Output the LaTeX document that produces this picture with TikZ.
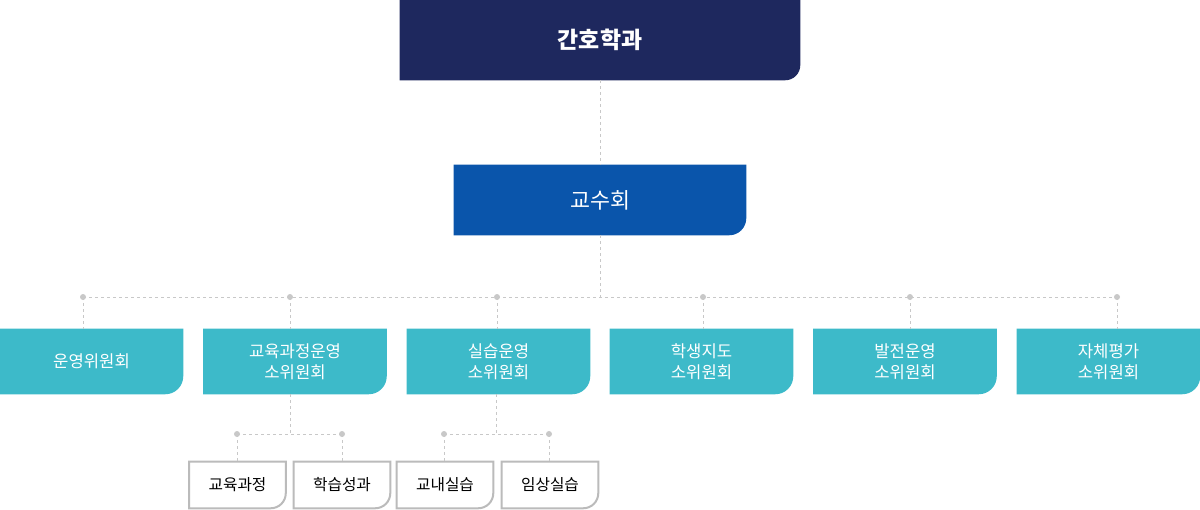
\documentclass[tikz,border=0pt]{standalone}
\usepackage{fontspec}
\setmainfont{Noto Sans CJK KR}
\usetikzlibrary{backgrounds}
\definecolor{navyc}{HTML}{1E285E}
\definecolor{bluec}{HTML}{0A55AB}
\definecolor{tealc}{HTML}{3DBAC9}
\definecolor{borderc}{HTML}{BBBBBB}
\definecolor{dashc}{HTML}{C8C8C8}
\begin{document}
\begin{tikzpicture}[x=0.75pt,y=-0.75pt,
  box/.style={inner sep=0pt,align=center,text=white},
  topbox/.style={box,minimum width=300pt,minimum height=60pt,font=\bfseries\fontsize{17.2}{20}\selectfont},
  midbox/.style={box,minimum width=219pt,minimum height=52.5pt,font=\fontsize{16.3}{18}\selectfont},
  combox/.style={box,minimum width=137.25pt,minimum height=48.75pt,font=\fontsize{12.5}{16}\selectfont},
  subbox/.style={inner sep=0pt,align=center,text=black,minimum width=73.5pt,minimum height=36pt,font=\fontsize{11.8}{13}\selectfont},
  conn/.style={draw=dashc,line width=0.75pt,dash pattern=on 2.25pt off 2.25pt},
  dot/.style={fill=dashc}
]
\useasboundingbox (0,0) rectangle (1200,510);

\node[topbox] (top) at (600,40) {간호학과};
\node[midbox] (mid) at (600,200) {교수회};

\node[combox] (b1) at (91.5,361.5) {운영위원회};
\node[combox] (b2) at (295,361.5) {교육과정운영\\소위원회};
\node[combox] (b3) at (498.5,361.5) {실습운영\\소위원회};
\node[combox] (b4) at (701.5,361.5) {학생지도\\소위원회};
\node[combox] (b5) at (905,361.5) {발전운영\\소위원회};
\node[combox] (b6) at (1108.5,361.5) {자체평가\\소위원회};

\node[subbox] (s1) at (237.5,485) {교육과정};
\node[subbox] (s2) at (342,485) {학습성과};
\node[subbox] (s3) at (445,485) {교내실습};
\node[subbox] (s4) at (550,485) {임상실습};

\begin{pgfonlayer}{background}
  \fill[navyc] (top.north west) -- (top.north east) -- ([yshift=11.25pt]top.south east)
    arc[start angle=0,end angle=-90,radius=11.25pt] -- (top.south west) -- cycle;
  \fill[bluec] (mid.north west) -- (mid.north east) -- ([yshift=12.75pt]mid.south east)
    arc[start angle=0,end angle=-90,radius=12.75pt] -- (mid.south west) -- cycle;
  \foreach \n in {b1,b2,b3,b4,b5,b6}
    \fill[tealc] (\n.north west) -- (\n.north east) -- ([yshift=13.5pt]\n.south east)
      arc[start angle=0,end angle=-90,radius=13.5pt] -- (\n.south west) -- cycle;
  \foreach \n in {s1,s2,s3,s4}
    \draw[draw=borderc,fill=white,line width=1.5pt]
      ([xshift=0.75pt,yshift=-0.75pt]\n.north west) -- ([xshift=-0.75pt,yshift=-0.75pt]\n.north east)
      -- ([xshift=-0.75pt,yshift=12pt]\n.south east)
      arc[start angle=0,end angle=-90,radius=11.25pt] -- ([xshift=0.75pt,yshift=0.75pt]\n.south west) -- cycle;
\end{pgfonlayer}

\coordinate (hub) at (600,297);
\coordinate (d1) at (83,297);
\coordinate (d2) at (290,297);
\coordinate (d3) at (497,297);
\coordinate (d4) at (703,297);
\coordinate (d5) at (910,297);
\coordinate (d6) at (1117,297);

\draw[conn] (top.south) -- (mid.north);
\draw[conn] (mid.south) -- (hub);
\draw[conn] (d1) -- (d6);
\foreach \d/\b in {d1/b1,d2/b2,d3/b3,d4/b4,d5/b5,d6/b6}
  \draw[conn] (\d) -- (\d |- \b.north);

\coordinate (j2) at (290,434);
\coordinate (j3) at (496,434);
\coordinate (e1) at (237,434);
\coordinate (e2) at (342,434);
\coordinate (e3) at (444,434);
\coordinate (e4) at (549,434);

\draw[conn] (j2 |- b2.south) -- (j2);
\draw[conn] (j3 |- b3.south) -- (j3);
\draw[conn] (e1) -- (e2);
\draw[conn] (e3) -- (e4);
\foreach \e/\s in {e1/s1,e2/s2,e3/s3,e4/s4}
  \draw[conn] (\e) -- (\e |- \s.north);

\foreach \p in {d1,d2,d3,d4,d5,d6,e1,e2,e3,e4}
  \fill[dot] (\p) circle[radius=2.25pt];
\end{tikzpicture}
\end{document}
